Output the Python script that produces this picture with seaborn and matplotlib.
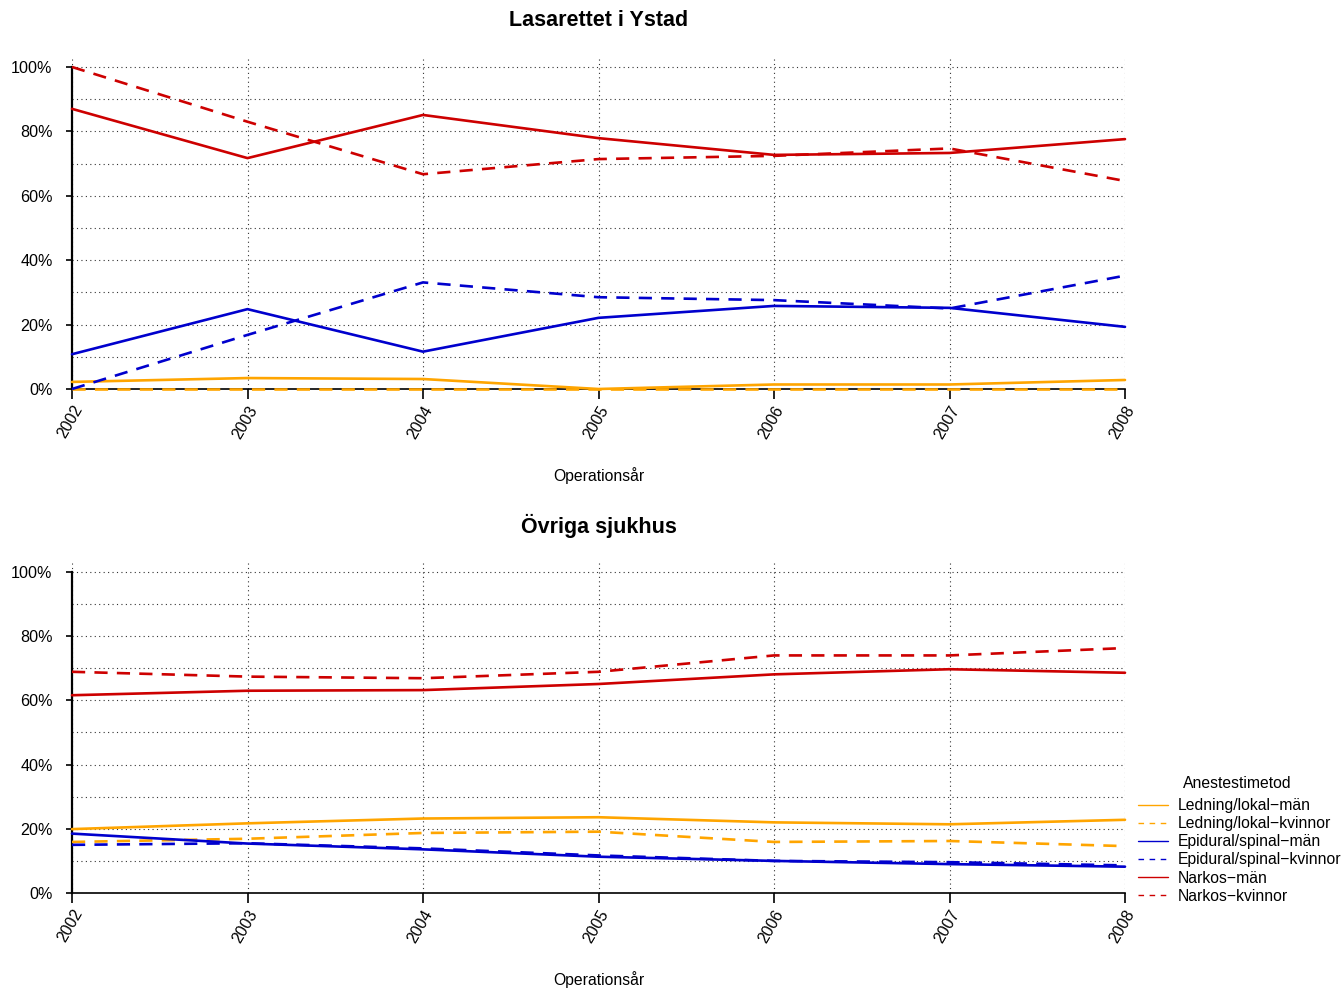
import numpy as np
import pandas as pd
import matplotlib
matplotlib.use("Agg")
import matplotlib.pyplot as plt
from matplotlib.lines import Line2D
from matplotlib.ticker import FixedLocator, PercentFormatter
import seaborn as sns


# =========================
# Data (andel i procent per operationsår)
# =========================
years = [2002, 2003, 2004, 2005, 2006, 2007, 2008]
series_names = [
    "Ledning/lokal\u2212män",
    "Ledning/lokal\u2212kvinnor",
    "Epidural/spinal\u2212män",
    "Epidural/spinal\u2212kvinnor",
    "Narkos\u2212män",
    "Narkos\u2212kvinnor",
]

ystad_ledning_man = [2.2, 3.4, 3.1, 0.0, 1.4, 1.4, 2.8]
ystad_ledning_kv = [0.0, 0.0, 0.0, 0.0, 0.0, 0.0, 0.0]
ystad_epi_man = [10.8, 24.8, 11.6, 22.1, 25.8, 25.2, 19.3]
ystad_epi_kv = [0.0, 16.8, 33.1, 28.5, 27.6, 25.0, 35.2]
ystad_nark_man = [87.0, 71.7, 85.1, 77.9, 72.7, 73.3, 77.6]
ystad_nark_kv = [100.0, 83.0, 66.7, 71.4, 72.4, 74.7, 64.6]

ovr_ledning_man = [19.9, 21.7, 23.2, 23.6, 22.0, 21.4, 22.8]
ovr_ledning_kv = [15.9, 16.9, 18.7, 19.1, 15.9, 16.2, 14.6]
ovr_epi_man = [18.5, 15.4, 13.6, 11.3, 10.0, 9.0, 8.2]
ovr_epi_kv = [15.0, 15.5, 13.9, 11.7, 10.0, 9.6, 8.6]
ovr_nark_man = [61.6, 63.0, 63.2, 65.1, 68.1, 69.7, 68.6]
ovr_nark_kv = [68.9, 67.4, 66.9, 68.9, 74.0, 74.0, 76.3]

panel_titles = ["Lasarettet i Ystad", "Övriga sjukhus"]


def to_long(values_list):
    rows = []
    for name, vals in zip(series_names, values_list):
        for yr, v in zip(years, vals):
            rows.append({"year": yr, "pct": v, "serie": name})
    return pd.DataFrame(rows)


df_ystad = to_long([ystad_ledning_man, ystad_ledning_kv, ystad_epi_man,
                    ystad_epi_kv, ystad_nark_man, ystad_nark_kv])
df_ovr = to_long([ovr_ledning_man, ovr_ledning_kv, ovr_epi_man,
                  ovr_epi_kv, ovr_nark_man, ovr_nark_kv])

# =========================
# Stil
# =========================
ORANGE = "#FFA500"
BLUE = "#0000CD"
RED = "#CD0000"
palette = dict(zip(series_names, [ORANGE, ORANGE, BLUE, BLUE, RED, RED]))
dash = (5, 3.5)
dashes = dict(zip(series_names, ["", dash, "", dash, "", dash]))

sns.set_theme(style="white")
plt.rcParams["font.family"] = ["Liberation Sans", "DejaVu Sans"]
plt.rcParams["text.color"] = "black"
plt.rcParams["axes.labelcolor"] = "black"
plt.rcParams["xtick.color"] = "black"
plt.rcParams["ytick.color"] = "black"

W, H = 1344, 988
fig = plt.figure(figsize=(W / 100, H / 100), dpi=100)

x0, x1 = 72, 1125
panels = [(57, 389), (562, 893)]  # (topp, botten) i pixlar
ytop = 103.1


def draw_panel(ax, df, title, ax_top):
    sns.lineplot(data=df, x="year", y="pct", hue="serie", style="serie",
                 palette=palette, dashes=dashes, linewidth=1.9,
                 legend=False, ax=ax, zorder=3, clip_on=False)
    ax.set_xlim(years[0], years[-1])
    ax.set_ylim(0, ytop)

    ax.set_xticks(years)
    ax.set_xticklabels([str(y) for y in years], rotation=60, ha="right",
                       rotation_mode="anchor", fontsize=11.5)
    ax.yaxis.set_major_locator(FixedLocator([0, 20, 40, 60, 80, 100]))
    ax.yaxis.set_minor_locator(FixedLocator([10, 30, 50, 70, 90]))
    ax.yaxis.set_major_formatter(PercentFormatter(decimals=0))
    ax.tick_params(axis="y", which="major", labelsize=11.6, length=4, width=1.2,
                   pad=10, left=True)
    ax.tick_params(axis="y", which="minor", length=0)
    ax.tick_params(axis="x", labelsize=11.5, length=7, width=1.2, pad=3,
                   bottom=True)

    ax.grid(True, axis="x", linestyle=(0, (1, 3)), color="#333333", linewidth=0.8)
    ax.grid(True, axis="y", which="both", linestyle=(0, (1, 3)),
            color="#333333", linewidth=0.8)

    for side in ["top", "right"]:
        ax.spines[side].set_visible(False)
    ax.spines["left"].set_bounds(0, 100)
    ax.spines["left"].set_linewidth(1.6)
    ax.spines["left"].set_color("black")
    ax.spines["bottom"].set_linewidth(1.2)
    ax.spines["bottom"].set_color("black")

    ax.set_ylabel("")
    ax.set_xlabel("Operationsår", fontsize=11.3)
    ax.xaxis.set_label_coords(0.5, -(467 - 389) / 332)

    fig.text((x0 + x1) / 2 / W, 1 - (ax_top - 36) / H, title,
             ha="center", va="center", fontsize=15.5, fontweight="bold")


for (top, bottom), df, title in zip(panels, [df_ystad, df_ovr], panel_titles):
    ax = fig.add_axes([x0 / W, 1 - bottom / H, (x1 - x0) / W, (bottom - top) / H])
    draw_panel(ax, df, title, top)

# Legend (titeln som egen text for att fa samma avstand som originalet)
handles = [Line2D([0], [0], color=palette[n], linewidth=1.0,
                  linestyle=(0, (4, 4)) if dashes[n] else "-")
           for n in series_names]
leg = fig.legend(handles, series_names,
                 loc="upper left", bbox_to_anchor=(1138 / W, 1 - 798 / H),
                 frameon=False, fontsize=11.3,
                 handlelength=1.9, handletextpad=0.65, labelspacing=0.2,
                 borderaxespad=0, borderpad=0)
fig.text(1237 / W, 1 - 783 / H, "Anestestimetod", ha="center", va="center",
         fontsize=11.3)

fig.savefig("out.png", dpi=100)
